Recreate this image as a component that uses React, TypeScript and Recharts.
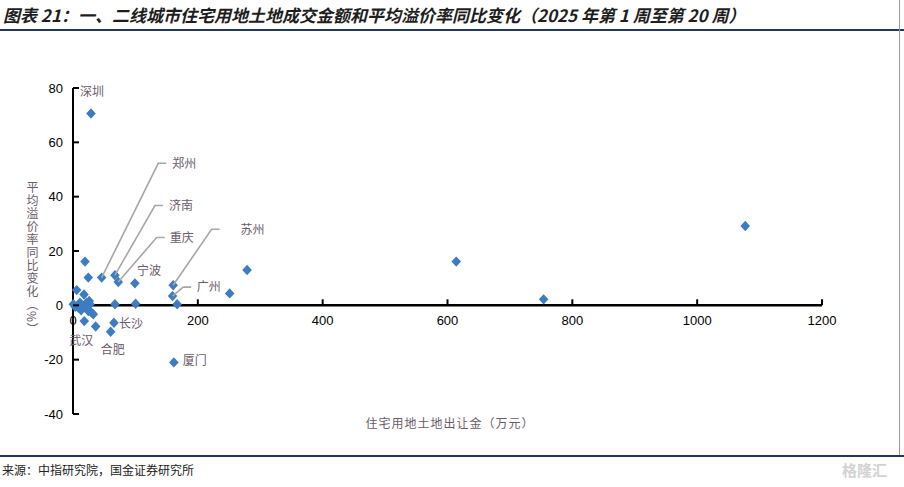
import { ScatterChart, Scatter, XAxis, YAxis, ReferenceLine } from 'recharts'

// 城市名（空字符串 = 不标注）
const cities = [
  '深圳', '', '', '郑州', '济南', '重庆', '宁波', '苏州', '广州', '',
  '', '', '', '', '', '厦门', '长沙', '合肥', '', '武汉',
  '', '', '', '', '', '', '', '', '', '',
  '', '', '', '', '', '', '',
]

// 住宅用地土地出让金（万元）
const landValue = [
  28.8, 19.2, 24.5, 45.9, 67.2, 72.5, 99.2, 160.5, 159.5, 166.9,
  251, 278.9, 614, 754, 1077, 161.6, 65.6, 60.3, 36.3, 18.1,
  67.2, 100.3, 5.9, 17.6, 0.5, 8.5, 11.2, 16.5, 21.9, 27.2,
  24.5, 29.9, 32.5, 3.5, 13, 20, 26,
]

// 平均溢价率同比变化（%）
const premiumChange = [
  70.6, 16.1, 10.2, 10.2, 11.1, 8.6, 8.1, 7.4, 3.4, 0.4,
  4.4, 13, 16.1, 2.2, 29.2, -21, -6.4, -9.7, -7.8, -5.8,
  0.4, 0.6, 5.6, 4, 0.4, -0.8, 1, -0.3, 1, 0.4,
  -2.1, -2.7, -3.3, -0.5, -1.8, -0.8, 1.6,
]

const xTicks = [0, 200, 400, 600, 800, 1000, 1200]
const yTicks = [-40, -20, 0, 20, 40, 60, 80]

const points = cities.map((name, i) => ({ name, x: landValue[i], y: premiumChange[i] }))

// 标签相对点的像素偏移
const plainLabels: Record<string, { dx: number; dy: number }> = {
  深圳: { dx: 1, dy: -22 },
  宁波: { dx: 14, dy: -13 },
  长沙: { dx: 17, dy: 1 },
  合肥: { dx: 2, dy: 18 },
  武汉: { dx: -3, dy: 20 },
  厦门: { dx: 21, dy: -2 },
}
const leaderLabels: Record<string, { ex: number; ey: number; gap: number }> = {
  郑州: { ex: 56.6, ey: -114.3, gap: 6 },
  济南: { ex: 40, ey: -69.7, gap: 6 },
  重庆: { ex: 38.4, ey: -44.4, gap: 5 },
  苏州: { ex: 38.4, ey: -56, gap: 21 },
  广州: { ex: 10.6, ey: -9, gap: 5.6 },
}

const W = 904
const H = 487
// 轴宽/高各 1px，计入边距
const M = { top: 88, right: 82, bottom: 72, left: 72 }
const Y_MIN = -40
const Y_MAX = 80
const PLOT_H = H - M.top - M.bottom - 1
const ZERO_SHIFT = (PLOT_H * (0 - Y_MIN)) / (Y_MAX - Y_MIN)

const LABEL_COLOR = '#6b5b6b'
const CJK = '"Noto Sans CJK SC", sans-serif'
const NUM = '"Liberation Sans", Arial, sans-serif'

const XTick = (props: any) => {
  const { x, y, payload } = props
  const y0 = y - ZERO_SHIFT
  return (
    <g>
      {payload.value !== 0 && (
        <path d={`M${x},${y0} L${x},${y0 - 6}`} stroke="#000" strokeWidth={2} fill="none" />
      )}
      <text x={x} y={y0 + 20} textAnchor="middle" fontSize={13} fontFamily={NUM} fill="#000">
        {payload.value}
      </text>
    </g>
  )
}

const YTick = (props: any) => {
  const { x, y, payload } = props
  return (
    <g>
      <path d={`M${x},${y} L${x + 6},${y}`} stroke="#000" strokeWidth={2} fill="none" />
      <text x={x - 10} y={y} dy="0.36em" textAnchor="end" fontSize={13} fontFamily={NUM} fill="#000">
        {payload.value}
      </text>
    </g>
  )
}

const Diamond = (props: any) => {
  const { cx, cy } = props
  return (
    <polygon
      points={`${cx},${cy - 5.2} ${cx + 4.8},${cy} ${cx},${cy + 5.2} ${cx - 4.8},${cy}`}
      fill="#3d7cc0"
    />
  )
}

const CityLabel = (props: any) => {
  const { cx, cy, payload } = props
  const name = payload?.name
  const p = plainLabels[name]
  if (p) {
    return (
      <text x={cx + p.dx} y={cy + p.dy} dy="0.36em" textAnchor="middle" fontSize={12} fontFamily={CJK} fill={LABEL_COLOR}>
        {name}
      </text>
    )
  }
  const l = leaderLabels[name]
  if (l) {
    const ex = cx + l.ex
    const ey = cy + l.ey
    return (
      <g>
        <polyline
          points={`${cx},${cy} ${ex},${ey} ${ex + 8},${ey}`}
          fill="none"
          stroke="#a6a6a6"
          strokeWidth={1.6}
        />
        <text x={ex + 8 + l.gap} y={ey} dy="0.36em" textAnchor="start" fontSize={12} fontFamily={CJK} fill={LABEL_COLOR}>
          {name}
        </text>
      </g>
    )
  }
  return <g />
}

export default function App() {
  return (
    <div style={{ position: 'absolute', left: 0, top: 0, width: W, height: H, background: '#fff', overflow: 'hidden' }}>
      <div
        style={{
          position: 'absolute',
          left: 3,
          top: 4,
          fontFamily: CJK,
          fontSize: 17,
          fontWeight: 700,
          fontStyle: 'italic',
          color: '#1e1e1e',
          whiteSpace: 'nowrap',
          lineHeight: '22px',
        }}
      >
        图表 21：一、二线城市住宅用地土地成交金额和平均溢价率同比变化（2025 年第 1 周至第 20 周）
      </div>
      <div style={{ position: 'absolute', left: 0, top: 29, width: W, height: 2, background: '#1f3a5c' }} />
      <div style={{ position: 'absolute', left: 899, top: 0, width: 1, height: 455, background: '#9a9a9a' }} />

      <div style={{ position: 'absolute', left: 0, top: 0 }}>
        <ScatterChart width={W} height={H} margin={M}>
          <XAxis
            type="number"
            dataKey="x"
            domain={[0, 1200]}
            ticks={xTicks}
            height={1}
            axisLine={false}
            tickLine={false}
            tickSize={0}
            tickMargin={0}
            tick={<XTick />}
            interval={0}
          />
          <YAxis
            type="number"
            dataKey="y"
            domain={[Y_MIN, Y_MAX]}
            ticks={yTicks}
            width={1}
            axisLine={false}
            tickLine={false}
            tickSize={0}
            tickMargin={0}
            tick={<YTick />}
            interval={0}
          />
          <ReferenceLine x={0} stroke="#000" strokeWidth={2} />
          <ReferenceLine y={0} stroke="#000" strokeWidth={2.5} />
          <Scatter data={points} shape={<Diamond />} isAnimationActive={false} />
          <Scatter data={points} shape={<CityLabel />} isAnimationActive={false} legendType="none" />
        </ScatterChart>
      </div>

      <div
        style={{
          position: 'absolute',
          left: 24,
          top: 181,
          writingMode: 'vertical-rl',
          fontFamily: CJK,
          fontSize: 12,
          lineHeight: '16px',
          color: LABEL_COLOR,
          letterSpacing: 1,
        }}
      >
        平均溢价率同比变化（%）
      </div>
      <div
        style={{
          position: 'absolute',
          left: 0,
          width: W - 4,
          top: 415,
          textAlign: 'center',
          fontFamily: CJK,
          fontSize: 12,
          lineHeight: '16px',
          color: LABEL_COLOR,
          letterSpacing: 1,
        }}
      >
        住宅用地土地出让金（万元）
      </div>

      <div style={{ position: 'absolute', left: 0, top: 455, width: W, height: 2, background: '#1f3a5c' }} />
      <div
        style={{
          position: 'absolute',
          left: 2,
          top: 462,
          fontFamily: CJK,
          fontSize: 12,
          lineHeight: '16px',
          color: '#222',
          whiteSpace: 'nowrap',
        }}
      >
        来源：中指研究院，国金证券研究所
      </div>
      <div
        style={{
          position: 'absolute',
          left: 842,
          top: 460,
          fontFamily: CJK,
          fontSize: 15,
          fontWeight: 700,
          lineHeight: '20px',
          color: '#d2d2d2',
          whiteSpace: 'nowrap',
        }}
      >
        格隆汇
      </div>
    </div>
  )
}
